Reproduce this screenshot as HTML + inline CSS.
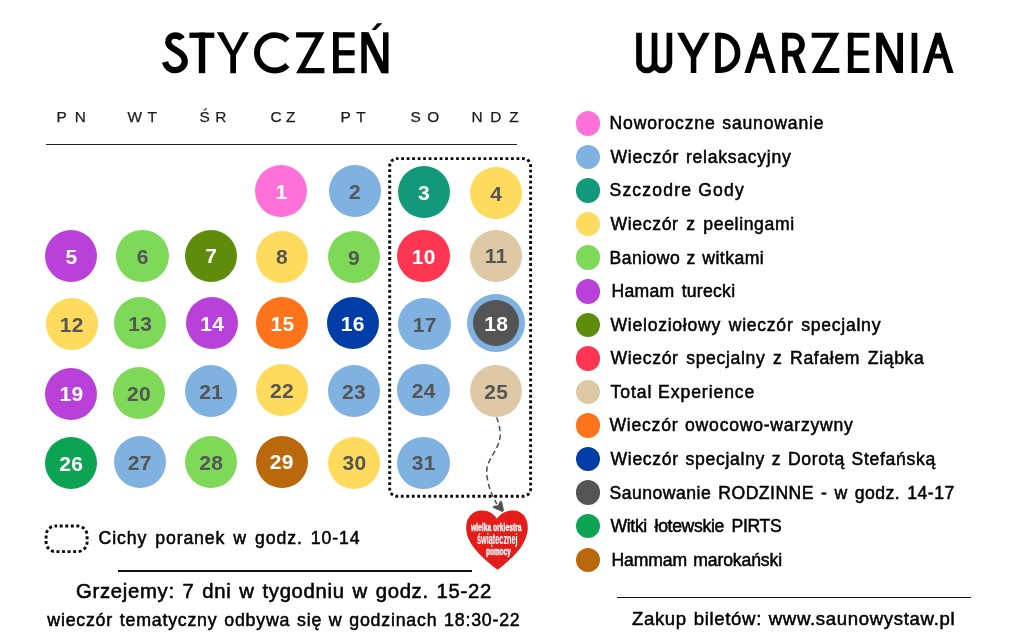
<!DOCTYPE html>
<html lang="pl"><head><meta charset="utf-8"><title>Styczeń – wydarzenia</title>
<style>
html,body{margin:0;padding:0;background:#fff;}
body{width:1030px;height:640px;position:relative;overflow:hidden;font-family:"Liberation Sans", sans-serif;color:#000;}
.t{position:absolute;white-space:nowrap;line-height:1;display:block;}
.c{position:absolute;border-radius:50%;}
.n{position:absolute;width:60px;text-align:center;font-weight:700;font-size:21px;line-height:1;letter-spacing:0.3px;padding-left:0.3px;box-sizing:border-box;}
.ln{position:absolute;background:#111;}
svg{position:absolute;left:0;top:0;}
#w{position:absolute;left:0;top:0;width:1030px;height:640px;filter:blur(0.4px);}
</style></head><body><div id="w">
<div class="ln" style="left:45.5px;top:143.7px;width:471.3px;height:1.1px;background:#222"></div>
<div class="ln" style="left:118px;top:569.5px;width:353.5px;height:2px"></div>
<div class="ln" style="left:617px;top:596.7px;width:353.6px;height:1.8px"></div>
<div class="c" style="left:255.30px;top:165.30px;width:52.2px;height:52.2px;background:#FF70D8"></div>
<div class="n" style="left:251.40px;top:181.00px;color:#fff">1</div>
<div class="c" style="left:328.70px;top:165.30px;width:52.2px;height:52.2px;background:#7FB1E1"></div>
<div class="n" style="left:324.80px;top:181.00px;color:#555555">2</div>
<div class="c" style="left:397.70px;top:165.90px;width:52.2px;height:52.2px;background:#11997A"></div>
<div class="n" style="left:393.80px;top:182.00px;color:#fff">3</div>
<div class="c" style="left:469.90px;top:166.90px;width:52.2px;height:52.2px;background:#FFDB5D"></div>
<div class="n" style="left:466.00px;top:183.00px;color:#555555">4</div>
<div class="c" style="left:45.30px;top:230.30px;width:52.2px;height:52.2px;background:#B940D8"></div>
<div class="n" style="left:41.40px;top:246.00px;color:#fff">5</div>
<div class="c" style="left:116.40px;top:230.30px;width:52.2px;height:52.2px;background:#7ED958"></div>
<div class="n" style="left:112.50px;top:246.00px;color:#555555">6</div>
<div class="c" style="left:185.10px;top:229.60px;width:52.2px;height:52.2px;background:#5F8C0A"></div>
<div class="n" style="left:181.20px;top:245.00px;color:#fff">7</div>
<div class="c" style="left:255.80px;top:230.70px;width:52.2px;height:52.2px;background:#FFDB5D"></div>
<div class="n" style="left:251.90px;top:246.00px;color:#555555">8</div>
<div class="c" style="left:327.80px;top:230.90px;width:52.2px;height:52.2px;background:#7ED958"></div>
<div class="n" style="left:323.90px;top:247.00px;color:#555555">9</div>
<div class="c" style="left:397.40px;top:230.30px;width:52.2px;height:52.2px;background:#FF3651"></div>
<div class="n" style="left:393.50px;top:246.00px;color:#fff">10</div>
<div class="c" style="left:469.90px;top:229.60px;width:52.2px;height:52.2px;background:#DEC8A6"></div>
<div class="n" style="left:466.00px;top:245.00px;color:#555555">11</div>
<div class="c" style="left:45.60px;top:298.30px;width:52.2px;height:52.2px;background:#FFDB5D"></div>
<div class="n" style="left:41.70px;top:314.00px;color:#555555">12</div>
<div class="c" style="left:113.90px;top:296.90px;width:52.2px;height:52.2px;background:#7ED958"></div>
<div class="n" style="left:110.00px;top:313.00px;color:#555555">13</div>
<div class="c" style="left:186.10px;top:296.90px;width:52.2px;height:52.2px;background:#B940D8"></div>
<div class="n" style="left:182.20px;top:313.00px;color:#fff">14</div>
<div class="c" style="left:256.20px;top:297.30px;width:52.2px;height:52.2px;background:#FF741A"></div>
<div class="n" style="left:252.30px;top:313.00px;color:#fff">15</div>
<div class="c" style="left:326.50px;top:296.90px;width:52.2px;height:52.2px;background:#003DA6"></div>
<div class="n" style="left:322.60px;top:313.00px;color:#fff">16</div>
<div class="c" style="left:398.40px;top:297.80px;width:52.2px;height:52.2px;background:#7FB1E1"></div>
<div class="n" style="left:394.50px;top:314.00px;color:#555555">17</div>
<div class="c" style="left:467.00px;top:294.00px;width:58px;height:58px;background:#7FB1E1"></div>
<div class="c" style="left:472.80px;top:299.80px;width:46.4px;height:46.4px;background:#545454"></div>
<div class="n" style="left:466.00px;top:313.00px;color:#fff">18</div>
<div class="c" style="left:45.30px;top:367.60px;width:52.2px;height:52.2px;background:#B940D8"></div>
<div class="n" style="left:41.40px;top:383.00px;color:#fff">19</div>
<div class="c" style="left:112.70px;top:367.30px;width:52.2px;height:52.2px;background:#7ED958"></div>
<div class="n" style="left:108.80px;top:383.00px;color:#555555">20</div>
<div class="c" style="left:185.10px;top:364.90px;width:52.2px;height:52.2px;background:#7FB1E1"></div>
<div class="n" style="left:181.20px;top:381.00px;color:#555555">21</div>
<div class="c" style="left:255.80px;top:364.30px;width:52.2px;height:52.2px;background:#FFDB5D"></div>
<div class="n" style="left:251.90px;top:380.00px;color:#555555">22</div>
<div class="c" style="left:327.80px;top:364.90px;width:52.2px;height:52.2px;background:#7FB1E1"></div>
<div class="n" style="left:323.90px;top:381.00px;color:#555555">23</div>
<div class="c" style="left:397.40px;top:364.30px;width:52.2px;height:52.2px;background:#7FB1E1"></div>
<div class="n" style="left:393.50px;top:380.00px;color:#555555">24</div>
<div class="c" style="left:469.90px;top:364.90px;width:52.2px;height:52.2px;background:#DEC8A6"></div>
<div class="n" style="left:466.00px;top:381.00px;color:#555555">25</div>
<div class="c" style="left:44.90px;top:436.90px;width:52.2px;height:52.2px;background:#0CA452"></div>
<div class="n" style="left:41.00px;top:453.00px;color:#fff">26</div>
<div class="c" style="left:113.50px;top:436.10px;width:52.2px;height:52.2px;background:#7FB1E1"></div>
<div class="n" style="left:109.60px;top:452.00px;color:#555555">27</div>
<div class="c" style="left:185.10px;top:435.90px;width:52.2px;height:52.2px;background:#7ED958"></div>
<div class="n" style="left:181.20px;top:452.00px;color:#555555">28</div>
<div class="c" style="left:255.50px;top:435.60px;width:52.2px;height:52.2px;background:#B9690B"></div>
<div class="n" style="left:251.60px;top:451.00px;color:#fff">29</div>
<div class="c" style="left:328.30px;top:436.60px;width:52.2px;height:52.2px;background:#FFDB5D"></div>
<div class="n" style="left:324.40px;top:452.00px;color:#555555">30</div>
<div class="c" style="left:397.40px;top:436.60px;width:52.2px;height:52.2px;background:#7FB1E1"></div>
<div class="n" style="left:393.50px;top:452.00px;color:#555555">31</div>
<div class="c" style="left:575.50px;top:111.15px;width:24.5px;height:24.5px;background:#FF70D8"></div>
<div class="c" style="left:575.50px;top:144.72px;width:24.5px;height:24.5px;background:#7FB1E1"></div>
<div class="c" style="left:575.50px;top:178.29px;width:24.5px;height:24.5px;background:#11997A"></div>
<div class="c" style="left:575.50px;top:211.86px;width:24.5px;height:24.5px;background:#FFDB5D"></div>
<div class="c" style="left:575.50px;top:245.43px;width:24.5px;height:24.5px;background:#7ED958"></div>
<div class="c" style="left:575.50px;top:279.00px;width:24.5px;height:24.5px;background:#B940D8"></div>
<div class="c" style="left:575.50px;top:312.57px;width:24.5px;height:24.5px;background:#5F8C0A"></div>
<div class="c" style="left:575.50px;top:346.14px;width:24.5px;height:24.5px;background:#FF3651"></div>
<div class="c" style="left:575.50px;top:379.71px;width:24.5px;height:24.5px;background:#DEC8A6"></div>
<div class="c" style="left:575.50px;top:413.28px;width:24.5px;height:24.5px;background:#FF741A"></div>
<div class="c" style="left:575.50px;top:446.85px;width:24.5px;height:24.5px;background:#003DA6"></div>
<div class="c" style="left:575.50px;top:480.42px;width:24.5px;height:24.5px;background:#545454"></div>
<div class="c" style="left:575.50px;top:513.99px;width:24.5px;height:24.5px;background:#0CA452"></div>
<div class="c" style="left:575.50px;top:547.56px;width:24.5px;height:24.5px;background:#B9690B"></div>
<svg width="1030" height="640" viewBox="0 0 1030 640">
<rect x="389.7" y="158.6" width="140.9" height="337.7" rx="7.4" ry="7.4" fill="none" stroke="#0a0a0a" stroke-width="2.9" stroke-dasharray="2.8 2.6913" stroke-dashoffset="1.40"/>
<rect x="46.1" y="526" width="41" height="25.6" rx="9.5" ry="9.5" fill="none" stroke="#0a0a0a" stroke-width="2.9" stroke-dasharray="3.0 2.5662" stroke-dashoffset="1.50"/>
<path d="M496.6,417.5 C498.5,422 500.2,428 500.2,435 C500.2,446 490.5,456 487.4,466 C485.2,475 489,487 491.9,494.4 L496.9,504.2" fill="none" stroke="#505050" stroke-width="1.5" stroke-dasharray="5.4 3.3"/>
<polygon points="500.2,501.2 501.7,501.4 503.7,510.6 502.3,511.7 493.1,507.5 493.5,506 498,505.8" fill="#505050" stroke="#505050" stroke-width="0.6" stroke-linejoin="round"/>
<path d="M497,518.8 C499.5,514.5 505,510.4 513.4,510.4 C521.5,510.4 527.8,517 527.8,527.5 C527.8,538 521,547.5 518.9,550 C513,557.5 503,565.5 497.6,569.8 C491,565 480,556 474,547.8 C469.5,541.5 466.2,536 466.2,527.5 C466.2,517.5 472.5,510.6 481.7,510.6 C488.5,510.6 494,514 497,518.8 Z" fill="#E41D1A"/>
<g fill="#000"><path d="M182.1,38.9 C180.9,36.9 178.2,35.5 174.8,35.5 C171.1,35.5 168.3,38.2 168.3,41.7 C168.3,46.2 172.5,48.3 176.0,50.2 C180.5,52.7 184.8,55.5 184.8,61.1 C184.8,66.3 180.6,70.1 175.2,70.1 C170.1,70.1 166.3,67.0 165.0,62.0" fill="none" stroke="#000" stroke-width="6.3" stroke-linecap="butt"/><rect x="189.40" y="32.60" width="24.90" height="5.30"/><rect x="198.80" y="32.60" width="6.40" height="40.60"/><polygon points="216.90,32.30 223.30,32.30 233.10,50.80 242.60,32.30 248.90,32.30 236.00,54.90 236.00,73.20 230.30,73.20 230.30,54.90" fill="#000"/><path d="M287.38,40.55 A17.7,17.7 0 1 0 287.38,65.15" fill="none" stroke="#000" stroke-width="5.9" stroke-linecap="butt"/><polygon points="296.10,32.30 324.40,32.30 305.10,67.90 324.40,67.90 324.40,73.20 296.10,73.20 315.40,37.60 296.10,37.60" fill="#000"/><rect x="333.00" y="32.30" width="5.80" height="40.90"/><rect x="333.00" y="32.30" width="21.60" height="5.30"/><rect x="333.00" y="67.90" width="21.60" height="5.30"/><rect x="333.00" y="50.15" width="21.60" height="5.30"/><rect x="361.30" y="32.30" width="5.50" height="40.90"/><rect x="383.00" y="32.30" width="5.50" height="40.90"/><polygon points="361.30,32.30 368.50,32.30 388.50,73.20 381.30,73.20" fill="#000"/><polygon points="371.50,30.00 377.30,23.30 382.40,23.30 375.70,30.00" fill="#000"/></g>
<g fill="#000"><path d="M639,32.8 V62.70 A7.75,7.75 0 0 0 654.5,62.70 V32.8 M654.5,63.00 A7.449999999999989,7.449999999999989 0 0 0 669.4,63.00 V32.8" fill="none" stroke="#000" stroke-width="5.7" stroke-linecap="butt" stroke-linejoin="miter"/><polygon points="677.10,32.80 684.00,32.80 693.50,50.60 702.80,32.80 709.70,32.80 696.30,57.50 696.30,73.00 690.80,73.00 690.80,57.50" fill="#000"/><rect x="715.20" y="32.80" width="5.70" height="40.20"/><path d="M717,35.65 H720.5 A17.1,17.25 0 0 1 720.5,70.15 H717" fill="none" stroke="#000" stroke-width="5.7" stroke-linecap="butt" stroke-linejoin="miter"/><polygon points="744.40,73.00 757.30,32.80 762.90,32.80 775.80,73.00 769.70,73.00 760.10,43.08 750.50,73.00" fill="#000"/><rect x="755.42" y="53.70" width="9.35" height="4.80"/><rect x="782.10" y="32.80" width="5.70" height="40.20"/><path d="M784,35.65 H793.0 A9.0,9.0 0 0 1 793.0,53.65 H784" fill="none" stroke="#000" stroke-width="5.7" stroke-linecap="butt" stroke-linejoin="miter"/><polygon points="791.80,54.60 798.60,54.60 806.00,73.00 798.80,73.00" fill="#000"/><polygon points="811.70,32.80 839.30,32.80 820.50,68.10 839.30,68.10 839.30,73.00 811.70,73.00 830.50,37.70 811.70,37.70" fill="#000"/><rect x="847.90" y="32.80" width="5.70" height="40.20"/><rect x="847.90" y="32.80" width="21.50" height="4.90"/><rect x="847.90" y="68.10" width="21.50" height="4.90"/><rect x="847.90" y="50.55" width="20.50" height="4.90"/><rect x="876.20" y="32.80" width="5.70" height="40.20"/><rect x="897.30" y="32.80" width="5.70" height="40.20"/><polygon points="876.20,32.80 882.90,32.80 903.00,73.00 896.30,73.00" fill="#000"/><rect x="911.60" y="32.80" width="5.70" height="40.20"/><polygon points="922.60,73.00 935.30,32.80 940.90,32.80 953.60,73.00 947.50,73.00 938.10,43.25 928.70,73.00" fill="#000"/><rect x="933.54" y="53.70" width="9.12" height="4.80"/></g>
</svg>
<span id="hz1" class="t" style="left:471.4px;top:522px;font-size:10.6px;font-weight:700;color:#fff;-webkit-text-stroke:0.35px #fff;transform:scaleX(0.6365);transform-origin:0 0;">wielka orkiestra</span>
<span id="hz2" class="t" style="left:476.9px;top:532px;font-size:14.6px;font-weight:700;color:#fff;-webkit-text-stroke:0.1px #fff;transform:scaleX(0.5005);transform-origin:0 0;">świątecznej</span>
<span id="hz3" class="t" style="left:485.5px;top:546px;font-size:10.6px;font-weight:700;color:#fff;-webkit-text-stroke:0.35px #fff;transform:scaleX(0.6129);transform-origin:0 0;">pomocy</span>
<span id="h_pn" class="t" style="left:56.50px;top:109.00px;font-size:15.4px;font-weight:400;letter-spacing:8.000px;word-spacing:0.000px;color:#1c1c1c;-webkit-text-stroke:0.25px #1c1c1c;">PN</span>
<span id="h_wt" class="t" style="left:127.50px;top:109.00px;font-size:15.4px;font-weight:400;letter-spacing:5.500px;word-spacing:0.000px;color:#1c1c1c;-webkit-text-stroke:0.25px #1c1c1c;">WT</span>
<span id="h_sr" class="t" style="left:199.50px;top:109.00px;font-size:15.4px;font-weight:400;letter-spacing:5.500px;word-spacing:0.000px;color:#1c1c1c;-webkit-text-stroke:0.25px #1c1c1c;">ŚR</span>
<span id="h_cz" class="t" style="left:270.50px;top:109.00px;font-size:15.4px;font-weight:400;letter-spacing:4.500px;word-spacing:0.000px;color:#1c1c1c;-webkit-text-stroke:0.25px #1c1c1c;">CZ</span>
<span id="h_pt" class="t" style="left:340.50px;top:109.00px;font-size:15.4px;font-weight:400;letter-spacing:5.500px;word-spacing:0.000px;color:#1c1c1c;-webkit-text-stroke:0.25px #1c1c1c;">PT</span>
<span id="h_so" class="t" style="left:410.50px;top:109.00px;font-size:15.4px;font-weight:400;letter-spacing:6.500px;word-spacing:0.000px;color:#1c1c1c;-webkit-text-stroke:0.25px #1c1c1c;">SO</span>
<span id="h_ndz" class="t" style="left:471.50px;top:109.00px;font-size:15.4px;font-weight:400;letter-spacing:7.750px;word-spacing:0.000px;color:#1c1c1c;-webkit-text-stroke:0.25px #1c1c1c;">NDZ</span>
<span id="b_cichy" class="t" style="left:98.50px;top:530.00px;font-size:17.7px;font-weight:400;letter-spacing:0.877px;word-spacing:2.300px;-webkit-text-stroke:0.5px #000;">Cichy poranek w godz. 10-14</span>
<span id="b_grz" class="t" style="left:76.10px;top:581.00px;font-size:20.3px;font-weight:400;letter-spacing:0.692px;word-spacing:1.500px;-webkit-text-stroke:0.55px #000;">Grzejemy: 7 dni w tygodniu w godz. 15-22</span>
<span id="b_wie" class="t" style="left:47.30px;top:612.00px;font-size:17.8px;font-weight:400;letter-spacing:0.773px;word-spacing:1.100px;-webkit-text-stroke:0.5px #000;">wieczór tematyczny odbywa się w godzinach 18:30-22</span>
<span id="b_zak" class="t" style="left:631.90px;top:610.00px;font-size:18.6px;font-weight:400;letter-spacing:0.656px;word-spacing:1.000px;-webkit-text-stroke:0.5px #000;">Zakup biletów: www.saunowystaw.pl</span>
<span id="l_0" class="t" style="left:609.50px;top:115.00px;font-size:17.6px;font-weight:400;letter-spacing:0.820px;word-spacing:1.100px;-webkit-text-stroke:0.5px #000;">Noworoczne saunowanie</span>
<span id="l_1" class="t" style="left:610.50px;top:149.00px;font-size:17.6px;font-weight:400;letter-spacing:0.732px;word-spacing:1.100px;-webkit-text-stroke:0.5px #000;">Wieczór relaksacyjny</span>
<span id="l_2" class="t" style="left:609.50px;top:182.00px;font-size:17.6px;font-weight:400;letter-spacing:1.158px;word-spacing:0.100px;-webkit-text-stroke:0.5px #000;">Szczodre Gody</span>
<span id="l_3" class="t" style="left:610.50px;top:216.00px;font-size:17.6px;font-weight:400;letter-spacing:0.647px;word-spacing:2.100px;-webkit-text-stroke:0.5px #000;">Wieczór z peelingami</span>
<span id="l_4" class="t" style="left:609.50px;top:250.00px;font-size:17.6px;font-weight:400;letter-spacing:0.456px;word-spacing:1.100px;-webkit-text-stroke:0.5px #000;">Baniowo z witkami</span>
<span id="l_5" class="t" style="left:611.50px;top:283.00px;font-size:17.6px;font-weight:400;letter-spacing:0.262px;word-spacing:2.100px;-webkit-text-stroke:0.5px #000;">Hamam turecki</span>
<span id="l_6" class="t" style="left:610.50px;top:317.00px;font-size:17.6px;font-weight:400;letter-spacing:0.734px;word-spacing:2.100px;-webkit-text-stroke:0.5px #000;">Wieloziołowy wieczór specjalny</span>
<span id="l_7" class="t" style="left:610.50px;top:350.00px;font-size:17.6px;font-weight:400;letter-spacing:0.647px;word-spacing:2.100px;-webkit-text-stroke:0.5px #000;">Wieczór specjalny z Rafałem Ziąbka</span>
<span id="l_8" class="t" style="left:610.50px;top:384.00px;font-size:17.6px;font-weight:400;letter-spacing:0.920px;word-spacing:0.000px;-webkit-text-stroke:0.5px #000;">Total Experience</span>
<span id="l_9" class="t" style="left:609.50px;top:417.00px;font-size:17.6px;font-weight:400;letter-spacing:0.757px;word-spacing:1.100px;-webkit-text-stroke:0.5px #000;">Wieczór owocowo-warzywny</span>
<span id="l_10" class="t" style="left:610.50px;top:451.00px;font-size:17.6px;font-weight:400;letter-spacing:0.689px;word-spacing:1.100px;-webkit-text-stroke:0.5px #000;">Wieczór specjalny z Dorotą Stefańską</span>
<span id="l_11" class="t" style="left:609.50px;top:485.00px;font-size:17.6px;font-weight:400;letter-spacing:0.485px;word-spacing:1.700px;-webkit-text-stroke:0.5px #000;">Saunowanie RODZINNE - w godz. 14-17</span>
<span id="l_12" class="t" style="left:610.50px;top:518.00px;font-size:17.6px;font-weight:400;letter-spacing:-0.335px;word-spacing:3.100px;-webkit-text-stroke:0.5px #000;">Witki łotewskie PIRTS</span>
<span id="l_13" class="t" style="left:611.50px;top:552.00px;font-size:17.6px;font-weight:400;letter-spacing:-0.125px;word-spacing:1.500px;-webkit-text-stroke:0.5px #000;">Hammam marokański</span>
</div></body></html>
